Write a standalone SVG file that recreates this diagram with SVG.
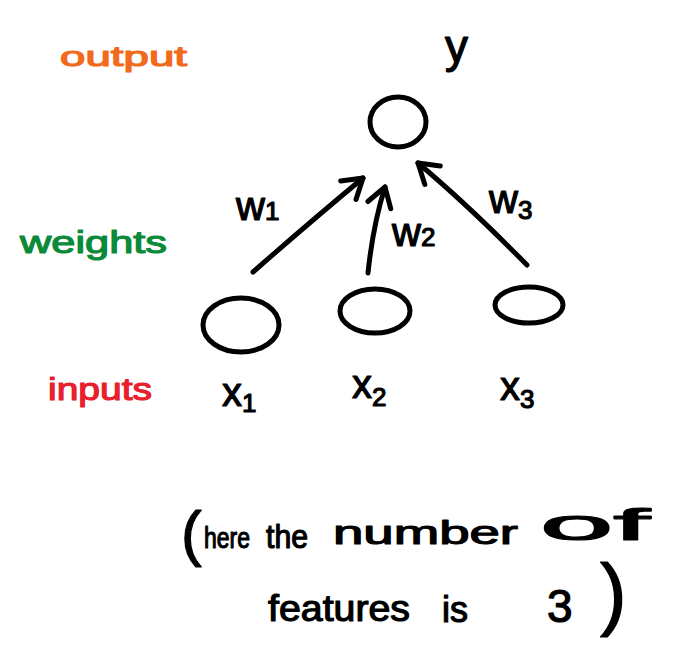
<svg xmlns="http://www.w3.org/2000/svg" width="684" height="650" viewBox="0 0 684 650">
<defs>
<style>
.ink{fill:none;stroke:#000;stroke-width:5;stroke-linecap:round;stroke-linejoin:round}
.t{font-family:"Liberation Sans","DejaVu Sans",sans-serif;fill:#000;stroke:#000;stroke-width:1.2;stroke-linejoin:round}
.lbl{font-size:40px}
.sub{font-size:26px}
.output{fill:#f26a1b;stroke:#f26a1b}
.weights{fill:#0b8a3a;stroke:#0b8a3a}
.inputs{fill:#e8202c;stroke:#e8202c}
</style>
<marker id="head" viewBox="-22 -16 26 32" refX="0" refY="0" markerWidth="26" markerHeight="32" markerUnits="userSpaceOnUse" orient="auto">
<path d="M-19,-12 L0,0 L-19,12" fill="none" stroke="#000" stroke-width="5" stroke-linecap="round" stroke-linejoin="round"/>
</marker>
</defs>
<rect width="684" height="650" fill="#fff"/>

<g id="side-labels">
<text class="t output" x="60" y="66" font-size="28" textLength="127" lengthAdjust="spacingAndGlyphs">output</text>
<text class="t weights" x="20" y="253" font-size="32" textLength="147" lengthAdjust="spacingAndGlyphs">weights</text>
<text class="t inputs" x="48" y="400" font-size="32" textLength="104" lengthAdjust="spacingAndGlyphs">inputs</text>
</g>

<g id="node-y">
<ellipse class="ink" cx="398" cy="122" rx="28" ry="25"/>
<text class="t" x="445" y="62" font-size="46">y</text>
</g>

<g id="node-x1">
<ellipse class="ink" cx="241" cy="325" rx="38" ry="27"/>
<text class="t lbl" x="222" y="406">x<tspan class="sub" dy="6">1</tspan></text>
</g>
<g id="node-x2">
<ellipse class="ink" cx="375" cy="311" rx="35" ry="22"/>
<text class="t lbl" x="352" y="398">x<tspan class="sub" dy="8">2</tspan></text>
</g>
<g id="node-x3">
<ellipse class="ink" cx="529" cy="305" rx="34" ry="18"/>
<text class="t lbl" x="500" y="400">x<tspan class="sub" dy="8">3</tspan></text>
</g>

<g id="connectors">
<path class="ink" d="M253,272 Q310,222 363,178" marker-end="url(#head)"/>
<path class="ink" d="M368,273 Q373,225 385,187" marker-end="url(#head)"/>
<path class="ink" d="M527,265 Q468,205 418,163" marker-end="url(#head)"/>
<text class="t lbl" x="236" y="220">w<tspan class="sub" dy="0">1</tspan></text>
<text class="t lbl" x="392" y="246">w<tspan class="sub" dy="0">2</tspan></text>
<text class="t lbl" x="489" y="213">w<tspan class="sub" dy="6">3</tspan></text>
</g>

<g id="note">
<text class="t" x="181" y="554" font-size="62">(</text>
<text class="t" x="204" y="548" font-size="30" textLength="46" lengthAdjust="spacingAndGlyphs">here</text>
<text class="t" x="266" y="548" font-size="33" textLength="42" lengthAdjust="spacingAndGlyphs">the</text>
<text class="t" x="333" y="544" font-size="34" textLength="185" lengthAdjust="spacingAndGlyphs">number</text>
<text class="t" x="540" y="540" font-size="44" textLength="110" lengthAdjust="spacingAndGlyphs">of</text>
<text class="t" x="268" y="621" font-size="36" textLength="142" lengthAdjust="spacingAndGlyphs">features</text>
<text class="t" x="442" y="622" font-size="36">is</text>
<text class="t" x="547" y="622" font-size="46">3</text>
<text class="t" x="600" y="620" font-size="80">)</text>
</g>
</svg>
